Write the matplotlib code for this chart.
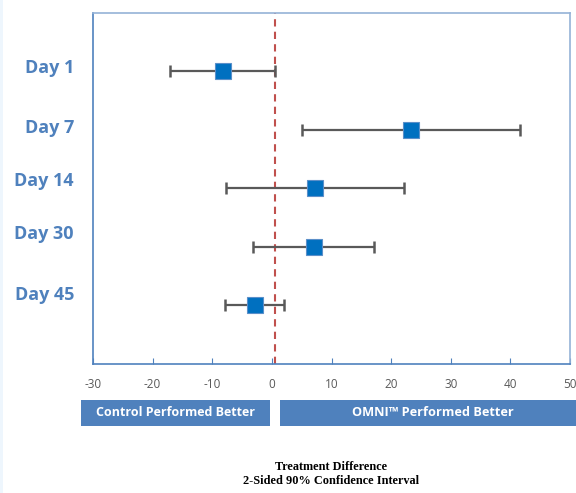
import matplotlib.pyplot as plt
from matplotlib.patches import Rectangle

# data
days = ['Day 1', 'Day 7', 'Day 14', 'Day 30', 'Day 45']
diff = [-8.2, 23.4, 7.2, 7.0, -2.9]
lower = [-17.1, 5.1, -7.7, -3.2, -7.9]
upper = [0.6, 41.6, 22.2, 17.2, 2.0]
ypos = [5, 4, 3, 2, 1]
label_y = [5.06, 4.03, 3.13, 2.22, 1.18]
ref_line = 0.6
xticks = [-30, -20, -10, 0, 10, 20, 30, 40, 50]

blue = '#4F81BD'
W, H = 576, 493

fig = plt.figure(figsize=(5.76, 4.93), dpi=100)
fig.patch.set_facecolor('white')
ax = fig.add_axes([93 / W, 1 - 364 / H, (570 - 93) / W, (364 - 12.5) / H])

# left light strip
fig.patches.append(Rectangle((0, 0), 3 / W, 1, transform=fig.transFigure,
                             facecolor='#EEF6FD', edgecolor='none'))

xerr = [[d - lo for d, lo in zip(diff, lower)], [hi - d for d, hi in zip(diff, upper)]]
ax.errorbar(diff, ypos, xerr=xerr, fmt='none', ecolor='#595959', elinewidth=1.6,
            capsize=4, capthick=1.8, zorder=3)
ax.plot(diff, ypos, 's', color='#0070C0', markeredgecolor='#5B8FC9',
        markeredgewidth=0.8, markersize=11.5, zorder=4)
ax.axvline(ref_line, color='#C0504D', linestyle=(0, (3.5, 2.5)), linewidth=1.5, zorder=2)

ax.set_xlim(-30, 50)
ax.set_ylim(0, 6)
ax.set_xticks(xticks)
ax.set_xticklabels([str(t) for t in xticks], fontfamily='Open Sans', fontsize=8.5, color='#595959')
ax.set_yticks([])
ax.tick_params(axis='x', direction='in', length=4, color=blue, pad=10)
for s in ax.spines.values():
    s.set_color(blue)
    s.set_linewidth(1.2)
ax.spines['top'].set_color('#95B3D7')
ax.spines['right'].set_color('#95B3D7')

for lab, y in zip(days, label_y):
    ax.text(-33.2, y, lab, ha='right', va='center', fontsize=13, fontweight='bold',
            color=blue, fontfamily='Open Sans', clip_on=False)

# the two blue boxes under the axis
fig.patches.append(Rectangle((81 / W, 1 - 426 / H), (270 - 81) / W, 26 / H,
                             transform=fig.transFigure, facecolor=blue, edgecolor='none'))
fig.patches.append(Rectangle((280 / W, 1 - 426 / H), (576 - 280) / W, 26 / H,
                             transform=fig.transFigure, facecolor=blue, edgecolor='none'))
fig.text(175.5 / W, 1 - 413 / H, 'Control Performed Better', ha='center', va='center',
         color='white', fontsize=9, fontweight='bold', fontfamily='Open Sans')
fig.text(433 / W, 1 - 413 / H, 'OMNI\u2122 Performed Better', ha='center', va='center',
         color='white', fontsize=9.2, fontweight='bold', fontfamily='Open Sans')

fig.text(331 / W, 1 - 467 / H, 'Treatment Difference', ha='center', va='center',
         fontsize=8.8, fontweight='bold', fontfamily='Liberation Serif')
fig.text(331 / W, 1 - 481 / H, '2-Sided 90% Confidence Interval', ha='center', va='center',
         fontsize=8.8, fontweight='bold', fontfamily='Liberation Serif')

fig.savefig('out.png', dpi=100)
